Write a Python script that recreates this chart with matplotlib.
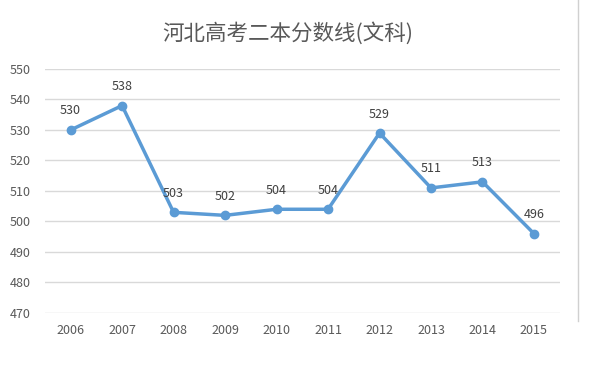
import matplotlib
matplotlib.use("Agg")
import matplotlib.pyplot as plt
from matplotlib.lines import Line2D

plt.rcParams['font.family'] = ['Noto Sans CJK SC', 'DejaVu Sans']

# data
years = ['2006', '2007', '2008', '2009', '2010', '2011', '2012', '2013', '2014', '2015']
scores = [530, 538, 503, 502, 504, 504, 529, 511, 513, 496]
y_ticks = [470, 480, 490, 500, 510, 520, 530, 540, 550]

fig = plt.figure(figsize=(5.98, 3.73), dpi=100)
ax = fig.add_axes([0.075, 0.161, 0.861, 0.654])

x = list(range(len(years)))
ax.plot(x, scores, color='#5B9BD5', linewidth=2.5, marker='o', markersize=6, zorder=3)

for xi, v in zip(x, scores):
    ax.annotate(str(v), (xi, v), xytext=(0, 9), textcoords='offset points',
                ha='center', va='bottom', fontsize=9, color='#404040')

ax.set_xlim(-0.5, len(years) - 0.5)
ax.set_ylim(470, 550)
ax.set_yticks(y_ticks)
ax.set_xticks(x)
ax.set_xticklabels(years)
ax.grid(axis='y', color='#D9D9D9', linewidth=1)
ax.set_axisbelow(True)
for s in ax.spines.values():
    s.set_visible(False)
ax.tick_params(length=0, labelsize=9, colors='#595959')
ax.tick_params(axis='x', pad=8)
ax.tick_params(axis='y', pad=10)

fig.text(0.482, 0.91, '河北高考二本分数线(文科)', ha='center', va='center',
         fontsize=15.5, color='#595959')

# chart border on the right
fig.add_artist(Line2D([0.967, 0.967], [0.14, 1.0], color='#D0D0D0', linewidth=1))

fig.savefig('out.png', dpi=100)
